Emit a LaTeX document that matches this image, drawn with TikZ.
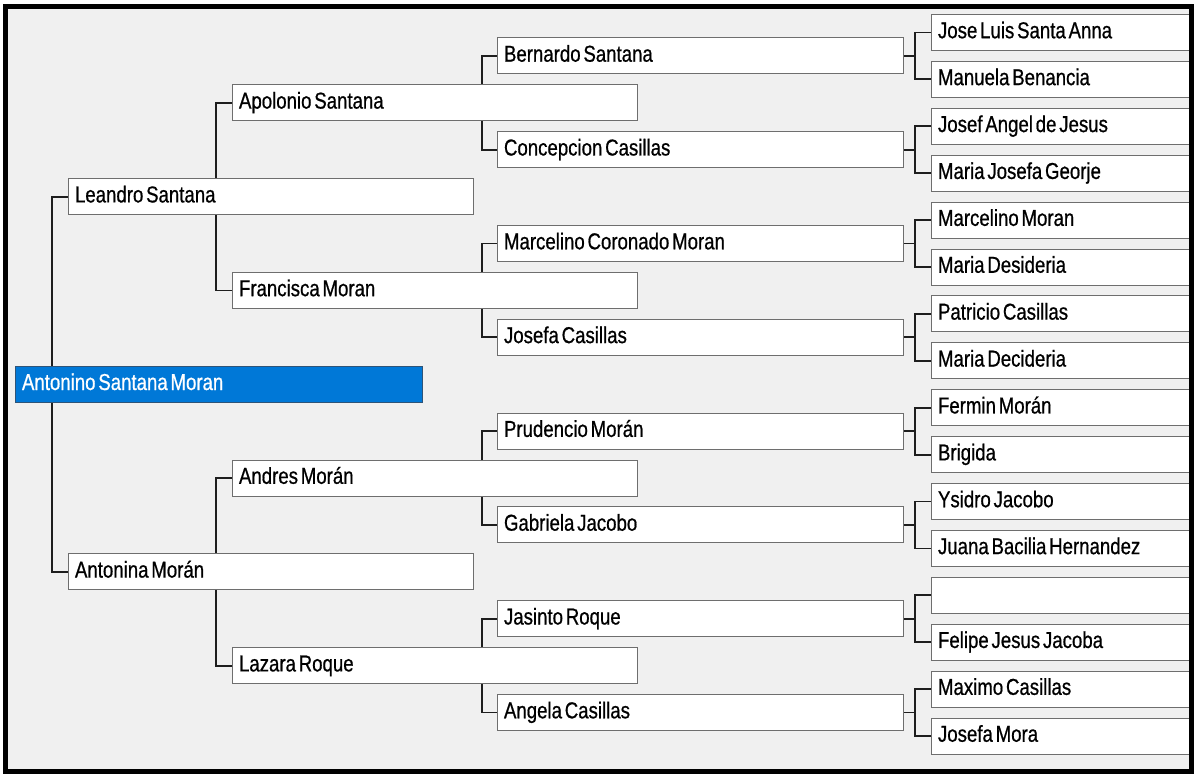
\documentclass[tikz,border=0pt]{standalone}
\usepackage{fontspec}
\setmainfont[FakeStretch=0.81, FakeBold=0.7]{Liberation Sans}
\pgfdeclarelayer{background}
\pgfsetlayers{background,main}
\definecolor{panel}{HTML}{F0F0F0}
\definecolor{boxgray}{HTML}{6E6E6E}
\definecolor{selblue}{HTML}{0078D7}
\definecolor{selborder}{HTML}{2E5478}
\definecolor{linecol}{HTML}{1E1E1E}
\tikzset{
  box/.style={draw=boxgray, fill=white, line width=1pt, minimum height=36pt,
    inner xsep=6.5pt, inner ysep=0pt, text height=16.5pt, text depth=5pt,
    align=left, anchor=west, font=\fontsize{23}{26}\selectfont,
    execute at begin node={\spaceskip=2.8pt plus 1pt\relax}},
  gzero/.style={box, fill=selblue, draw=selborder, text=white, text width=394pt},
  gone/.style={box, text width=392pt},
  gtwo/.style={box, text width=392pt},
  gthree/.style={box, text width=393pt},
  gfour/.style={box, text width=248pt},
  conn/.style={draw=linecol, line width=1.8pt},
}
\begin{document}
\begin{tikzpicture}[x=1pt,y=-1pt]
\useasboundingbox (0,0) rectangle (1200,781);
\begin{pgfonlayer}{background}
  \fill[panel] (5.5,7) rectangle (1191.5,771.5);
\end{pgfonlayer}
% generation 0
\node[gzero] (p0) at (15,384.25) {Antonino Santana Moran};
% generation 1
\node[gone] (a1) at (68,196.65) {Leandro Santana};
\node[gone] (a2) at (68,571.85) {Antonina Morán};
% generation 2
\node[gtwo] (b1) at (232,102.85) {Apolonio Santana};
\node[gtwo] (b2) at (232,290.45) {Francisca Moran};
\node[gtwo] (b3) at (232,478.05) {Andres Morán};
\node[gtwo] (b4) at (232,665.65) {Lazara Roque};
% generation 3
\node[gthree] (c1) at (497,55.95) {Bernardo Santana};
\node[gthree] (c2) at (497,149.75) {Concepcion Casillas};
\node[gthree] (c3) at (497,243.55) {Marcelino Coronado Moran};
\node[gthree] (c4) at (497,337.35) {Josefa Casillas};
\node[gthree] (c5) at (497,431.15) {Prudencio Morán};
\node[gthree] (c6) at (497,524.95) {Gabriela Jacobo};
\node[gthree] (c7) at (497,618.75) {Jasinto Roque};
\node[gthree] (c8) at (497,712.55) {Angela Casillas};
% generation 4
\node[gfour] (d1) at (931,32.5) {Jose Luis Santa Anna};
\node[gfour] (d2) at (931,79.4) {Manuela Benancia};
\node[gfour] (d3) at (931,126.3) {Josef Angel de Jesus};
\node[gfour] (d4) at (931,173.2) {Maria Josefa Georje};
\node[gfour] (d5) at (931,220.1) {Marcelino Moran};
\node[gfour] (d6) at (931,267.0) {Maria Desideria};
\node[gfour] (d7) at (931,313.9) {Patricio Casillas};
\node[gfour] (d8) at (931,360.8) {Maria Decideria};
\node[gfour] (d9) at (931,407.7) {Fermin Morán};
\node[gfour] (d10) at (931,454.6) {Brigida};
\node[gfour] (d11) at (931,501.5) {Ysidro Jacobo};
\node[gfour] (d12) at (931,548.4) {Juana Bacilia Hernandez};
\node[gfour] (d13) at (931,595.3) {};
\node[gfour] (d14) at (931,642.2) {Felipe Jesus Jacoba};
\node[gfour] (d15) at (931,689.1) {Maximo Casillas};
\node[gfour] (d16) at (931,736.0) {Josefa Mora};
% connectors
\begin{pgfonlayer}{background}
  \draw[conn] (a1.west) -- ++(-16,0) |- (a2.west);
  \draw[conn] (b1.west) -- ++(-16,0) |- (b2.west);
  \draw[conn] (b3.west) -- ++(-16,0) |- (b4.west);
  \draw[conn] (c1.west) -- ++(-15,0) |- (c2.west);
  \draw[conn] (c3.west) -- ++(-15,0) |- (c4.west);
  \draw[conn] (c5.west) -- ++(-15,0) |- (c6.west);
  \draw[conn] (c7.west) -- ++(-15,0) |- (c8.west);
  \foreach \p/\m/\f in {c1/d1/d2, c2/d3/d4, c3/d5/d6, c4/d7/d8, c5/d9/d10, c6/d11/d12, c7/d13/d14, c8/d15/d16}{
    \draw[conn] (\m.west) -- ++(-16,0) |- (\f.west);
    \draw[conn] (\p.east) -- ([xshift=-16pt]\m.west |- \p.east);
  }
\end{pgfonlayer}
% frame
\draw[black, line width=5pt] (5.5,7) rectangle (1191.5,771.5);
\end{tikzpicture}
\end{document}
